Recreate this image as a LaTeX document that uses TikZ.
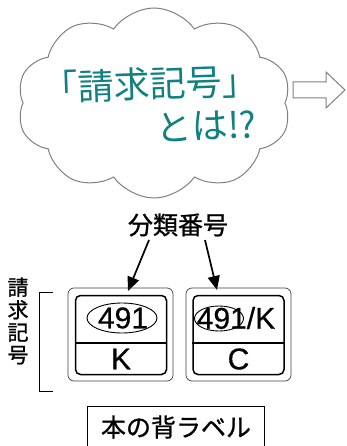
\documentclass[tikz,border=0pt]{standalone}
\usepackage{fontspec}
\setmainfont{Liberation Sans}
\newfontfamily\jp{Noto Sans CJK JP}
\newfontfamily\jpb[FakeBold=1]{Noto Sans CJK JP}
\newfontfamily\numfont[FakeBold=0.6]{Liberation Sans}
\usetikzlibrary{shapes.symbols,shapes.geometric,arrows.meta}
\definecolor{cloudteal}{RGB}{16,128,128}
\definecolor{cloudgray}{RGB}{128,128,128}
\begin{document}
\begin{tikzpicture}[x=1pt,y=1pt,
  cloudshape/.style={cloud, cloud puffs=10, cloud puff arc=110, cloud ignores aspect,
    draw=cloudgray, line width=1pt, minimum width=274pt, minimum height=190pt, inner sep=0pt},
  cloudtext/.style={text=cloudteal, font=\jp\fontsize{36}{40}\selectfont, inner sep=0pt},
  blockarrow/.style={draw=cloudgray, line width=1pt, fill=white},
  jplabel/.style={font=\jpb\fontsize{25}{28}\selectfont, inner sep=0pt},
  numtext/.style={font=\numfont\fontsize{30}{33}\selectfont, inner sep=0pt},
  outerbox/.style={draw=black!75, line width=0.7pt, rounded corners=6pt, minimum width=105pt, minimum height=93pt, inner sep=0pt},
  innerbox/.style={draw=black, line width=1.5pt, rounded corners=5pt, minimum width=91pt, minimum height=79pt, inner sep=0pt},
  oval/.style={draw=black, line width=0.9pt, ellipse, inner sep=0pt},
  bigarrow/.style={line width=1.7pt, -{Triangle[length=14pt,width=12pt]}},
  bracket/.style={draw=black, line width=1pt}
]
\useasboundingbox (0,0) rectangle (346,-446);

% cloud
\node[cloudshape] (cloud) at (154,-103) {};
\node[cloudtext, rotate=2] (t1) at (150,-84) {「請求記号」};
\node[cloudtext, rotate=2] (t2) at (206,-126) {とは!?};

% block arrow
\draw[blockarrow] (293,-82) -- (326,-82) -- (326,-72) -- (345,-90) -- (326,-108) -- (326,-98) -- (293,-98) -- cycle;

% classification label
\node[jplabel] (cls) at (178,-225) {分類番号};
\coordinate (a1s) at (149,-240);
\coordinate (a1e) at (128,-291);
\coordinate (a2s) at (205,-240);
\coordinate (a2e) at (217,-290);
\draw[bigarrow] (a1s) -- (a1e);
\draw[bigarrow] (a2s) -- (a2e);

% vertical text and bracket
\node[align=center, font=\jpb\fontsize{21}{22.5}\selectfont, inner sep=0pt] (vt) at (18,-321) {請\\求\\記\\号};
\draw[bracket] (53,-292) -- (39,-292) -- (39,-391) -- (53,-391);

% left label
\node[outerbox] (lo) at (120.5,-334.5) {};
\node[innerbox] (li) at (121,-335) {};
\draw[line width=1.2pt] (li.west |- 0,-343) -- (li.east |- 0,-343);
\node[oval, minimum width=70pt, minimum height=30pt] (le) at (122,-318) {};
\node[numtext] (ln) at (123,-318) {491};
\node[numtext] (lk) at (121,-359) {K};

% right label
\node[outerbox] (ro) at (238.5,-334.5) {};
\node[innerbox] (ri) at (238.5,-335) {};
\draw[line width=1.2pt] (ri.west |- 0,-343) -- (ri.east |- 0,-343);
\node[oval, minimum width=49pt, minimum height=25pt] (re) at (219,-318.5) {};
\node[numtext] (rn) at (236,-318) {491/K};
\node[numtext] (rc) at (238.5,-359) {C};

% spine label
\node[draw=black, line width=1pt, minimum width=177pt, minimum height=41pt, inner sep=0pt, font=\jpb\fontsize{25}{28}\selectfont] (spine) at (176,-427) {本の背ラベル};
\end{tikzpicture}
\end{document}
